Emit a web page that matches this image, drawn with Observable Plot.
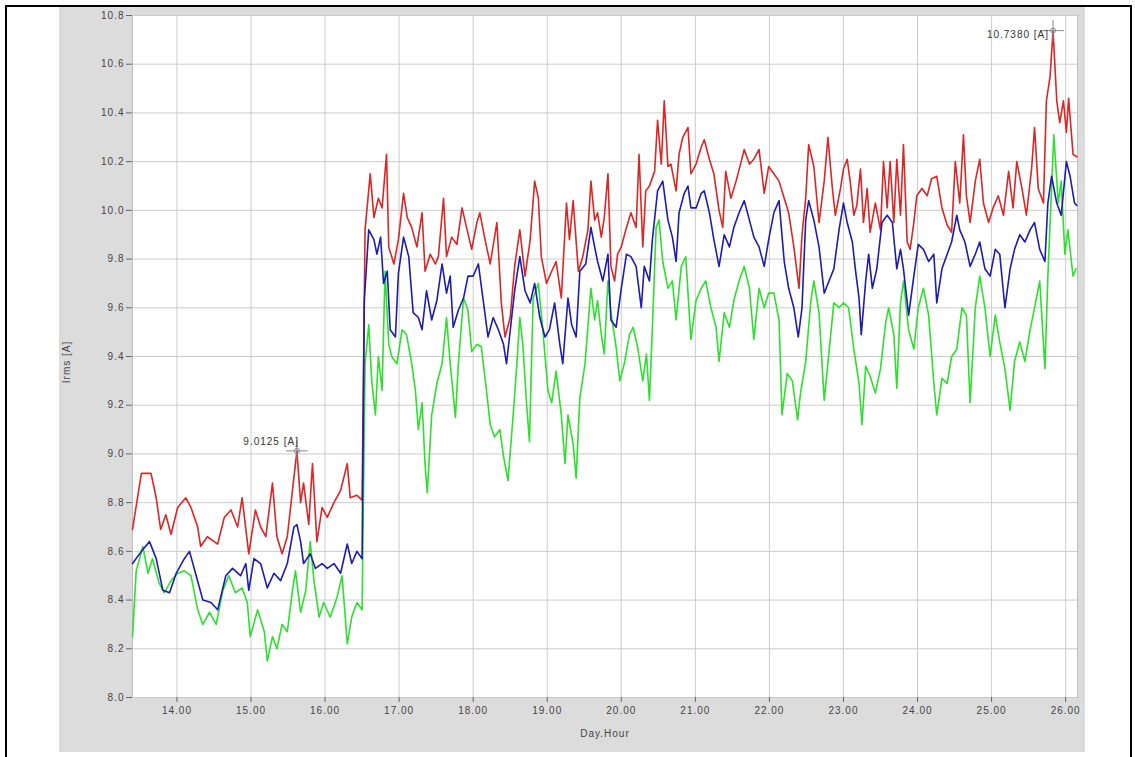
<!DOCTYPE html>
<html>
<head>
<meta charset="utf-8">
<script src="https://cdn.jsdelivr.net/npm/d3@7"></script>
<script src="https://cdn.jsdelivr.net/npm/@observablehq/plot@0.6"></script>
<style>
  html, body { margin: 0; padding: 0; background: #ffffff; }
  body { width: 1135px; height: 757px; position: relative; overflow: hidden; font-family: "Liberation Sans", Arial, sans-serif; }
  #border { position: absolute; left: 5px; top: 5px; width: 1123px; height: 760px; border: 2px solid #000; border-bottom: none; }
  #chart { position: absolute; left: 59px; top: 7px; }
  .lab { position: absolute; font-size: 10px; color: #444; letter-spacing: 1px; white-space: nowrap; }
  #xlab { left: 605px; top: 728px; transform: translateX(-50%); }
  #ylab { left: 66px; top: 362px; transform: translate(-50%, -50%) rotate(-90deg); }
</style>
</head>
<body>
<div id="border"></div>
<div id="chart"></div>
<div class="lab" id="xlab">Day.Hour</div>
<div class="lab" id="ylab">Irms [A]</div>
<script>
// ---- Tick labels ----
const xTicks = [14, 15, 16, 17, 18, 19, 20, 21, 22, 23, 24, 25, 26];
const yTicks = [8.0, 8.2, 8.4, 8.6, 8.8, 9.0, 9.2, 9.4, 9.6, 9.8, 10.0, 10.2, 10.4, 10.6, 10.8];

// ---- Red series ----
const redHours = [
  13.40,13.52,13.65,13.72,13.78,13.85,13.92,14.01,14.12,14.19,14.28,14.32,14.41,14.55,14.64,14.73,14.82,14.88,14.97,15.06,
  15.13,15.20,15.29,15.35,15.42,15.49,15.56,15.62,15.67,15.71,15.78,15.83,15.89,15.96,16.03,16.12,16.21,16.30,16.34,16.43,16.50,
  16.54,16.61,16.66,16.72,16.77,16.83,16.86,16.93,16.99,17.06,17.11,17.17,17.24,17.31,17.35,17.42,17.49,17.53,17.60,17.64,
  17.71,17.78,17.85,17.91,17.98,18.05,18.09,18.16,18.23,18.32,18.38,18.43,18.50,18.56,18.63,18.70,18.77,18.83,18.88,18.92,
  18.99,19.06,19.12,19.19,19.26,19.30,19.35,19.42,19.48,19.55,
  19.59,19.64,19.68,19.73,19.77,19.82,19.86,19.91,19.95,20.00,20.07,20.13,20.20,20.24,20.29,20.33,20.38,20.45,20.49,20.54,
  20.58,20.63,20.67,20.74,20.78,20.83,20.90,20.94,21.01,21.08,21.12,21.19,21.25,21.32,21.37,21.41,21.48,21.55,21.61,21.66,
  21.73,21.79,21.86,21.93,21.99,22.06,22.13,22.20,22.26,22.33,22.40,22.44,22.49,22.53,22.60,22.67,22.74,22.79,
  22.85,22.89,22.96,23.00,23.05,23.09,23.14,23.18,23.23,23.27,23.32,23.36,23.43,23.50,23.54,23.59,23.63,23.68,23.72,23.77,
  23.81,23.86,23.90,23.95,23.99,24.06,24.13,24.19,24.26,24.33,24.40,24.46,24.51,24.57,24.62,24.66,24.71,24.78,24.84,24.89,
  24.96,25.02,25.09,25.16,25.23,25.29,25.34,25.41,25.47,25.54,25.58,25.63,25.70,25.74,25.79,25.83,25.88,25.92,25.97,26.01,
  26.04,26.10,26.15
];
const redValues = [
  8.69,8.92,8.92,8.82,8.69,8.75,8.67,8.78,8.82,8.78,8.70,8.62,8.66,8.63,8.74,8.77,8.70,8.82,8.59,8.77,
  8.70,8.66,8.88,8.66,8.59,8.66,8.85,9.0125,8.80,8.88,8.71,8.96,8.64,8.78,8.74,8.80,8.85,8.96,8.82,8.83,8.81,
  9.92,10.15,9.97,10.05,10.01,10.23,9.85,9.78,9.88,10.07,9.97,9.93,9.85,9.99,9.75,9.82,9.78,9.81,10.05,9.81,
  9.89,9.86,10.01,9.93,9.84,9.95,9.99,9.88,9.78,9.95,9.62,9.48,9.56,9.77,9.92,9.73,9.88,10.12,10.05,9.81,
  9.70,9.75,9.79,9.64,10.03,9.88,10.04,9.75,9.81,9.92,
  10.12,9.96,9.99,9.89,9.97,10.15,9.77,9.71,9.82,9.85,9.93,9.99,9.93,10.23,9.85,10.08,10.10,10.16,10.37,10.19,
  10.45,10.18,10.19,10.08,10.23,10.30,10.34,10.15,10.19,10.26,10.29,10.21,10.15,10.00,9.93,10.16,10.05,10.12,10.19,10.25,
  10.19,10.21,10.25,10.07,10.18,10.15,10.12,10.05,9.99,9.85,9.68,9.90,10.05,10.27,10.18,9.95,10.12,10.30,
  10.09,9.98,10.09,10.17,10.21,10.12,9.98,10.02,10.17,9.95,10.09,9.91,10.03,9.92,10.20,10.01,10.20,9.95,10.21,9.98,
  10.27,9.87,9.84,9.95,10.06,10.09,10.06,10.13,10.14,10.01,9.94,9.91,10.20,10.03,10.31,10.06,9.95,10.12,10.21,10.03,
  9.95,10.01,10.06,9.98,10.16,10.01,10.20,10.09,9.98,10.17,10.34,10.09,10.03,10.45,10.55,10.738,10.45,10.36,10.45,10.32,
  10.46,10.23,10.22
];

// ---- Blue series ----
const blueHours = [
  13.40,13.52,13.63,13.72,13.81,13.90,13.99,14.10,14.17,14.26,14.35,14.46,14.55,14.66,14.75,14.86,14.93,14.97,15.04,15.13,
  15.22,15.31,15.40,15.49,15.58,15.62,15.67,15.71,15.80,15.87,15.96,16.03,16.12,16.21,16.30,16.36,16.43,16.50,
  16.53,16.59,16.66,16.70,16.75,16.79,16.84,16.88,16.95,16.99,17.06,17.13,17.19,17.26,17.31,17.37,17.44,17.51,17.58,17.64,
  17.69,17.73,17.80,17.87,17.93,18.00,18.07,18.14,18.20,18.27,18.34,18.41,18.45,18.52,18.56,18.63,18.70,18.77,18.83,18.90,
  18.97,19.03,19.10,19.17,19.21,19.28,19.33,19.39,19.44,19.52,
  19.59,19.64,19.68,19.75,19.82,19.86,19.93,20.00,20.07,20.13,20.20,20.27,20.31,20.38,20.42,20.49,20.56,20.63,20.69,20.74,
  20.78,20.85,20.90,20.94,21.01,21.08,21.12,21.19,21.25,21.32,21.39,21.46,21.52,21.59,21.66,21.73,21.79,21.86,21.93,21.99,
  22.06,22.13,22.20,22.26,22.33,22.39,22.44,22.49,22.53,22.60,22.67,22.74,
  22.87,22.94,23.00,23.05,23.12,23.16,23.21,23.24,23.30,23.34,23.39,23.45,23.52,23.59,23.66,23.72,23.77,23.81,23.88,23.95,
  24.01,24.08,24.15,24.22,24.26,24.33,24.40,24.46,24.53,24.57,24.64,24.71,24.78,24.84,24.91,24.98,25.05,25.11,25.18,25.25,
  25.31,25.38,25.45,25.52,25.58,25.65,25.72,25.76,25.81,25.88,25.94,26.01,26.06,26.12,26.15
];
const blueValues = [
  8.55,8.60,8.64,8.57,8.44,8.43,8.51,8.57,8.60,8.50,8.40,8.39,8.36,8.50,8.53,8.50,8.55,8.44,8.57,8.55,
  8.45,8.51,8.48,8.55,8.70,8.71,8.64,8.55,8.59,8.53,8.55,8.53,8.55,8.51,8.63,8.55,8.60,8.57,
  9.63,9.92,9.88,9.82,9.89,9.70,9.75,9.51,9.48,9.74,9.89,9.81,9.58,9.56,9.51,9.67,9.55,9.63,9.78,9.66,
  9.73,9.52,9.59,9.64,9.73,9.73,9.78,9.62,9.48,9.56,9.51,9.45,9.37,9.56,9.67,9.81,9.67,9.62,9.70,9.56,
  9.48,9.51,9.62,9.45,9.37,9.64,9.53,9.48,9.75,9.78,
  9.93,9.85,9.79,9.71,9.82,9.55,9.52,9.68,9.82,9.81,9.77,9.60,9.77,9.71,9.88,10.08,10.12,9.96,9.89,9.79,
  9.99,10.07,10.10,10.01,10.01,10.07,10.08,9.99,9.88,9.77,9.90,9.85,9.93,9.99,10.04,9.96,9.89,9.85,9.77,9.88,
  9.99,10.04,9.79,9.68,9.60,9.48,9.60,9.96,10.04,9.96,9.85,9.66,
  9.76,9.92,10.03,9.95,9.87,9.76,9.64,9.49,9.71,9.82,9.68,9.76,9.95,9.98,9.95,9.76,9.84,9.76,9.57,9.73,
  9.86,9.84,9.79,9.82,9.62,9.76,9.82,9.87,9.98,9.92,9.87,9.77,9.82,9.87,9.76,9.73,9.84,9.82,9.60,9.76,
  9.84,9.90,9.87,9.92,9.95,9.84,9.79,10.03,10.14,10.03,9.98,10.20,10.14,10.03,10.02
];

// ---- Green series ----
const greenHours = [
  13.40,13.45,13.54,13.61,13.67,13.76,13.83,13.92,14.01,14.10,14.19,14.28,14.35,14.44,14.53,14.62,14.70,14.79,14.88,14.95,
  14.99,15.09,15.18,15.22,15.29,15.35,15.42,15.49,15.56,15.60,15.67,15.74,15.80,15.85,15.92,15.98,16.07,16.16,16.23,16.30,
  16.36,16.43,16.50,
  16.54,16.59,16.63,16.68,16.72,16.77,16.81,16.86,16.90,16.97,17.04,17.10,17.17,17.22,17.26,17.31,17.35,17.38,17.44,17.51,
  17.58,17.64,17.69,17.76,17.80,17.87,17.93,17.98,18.05,18.11,18.18,18.23,18.29,18.36,18.41,18.47,18.54,18.59,18.63,18.67,
  18.72,18.76,18.81,18.88,18.94,19.01,19.06,19.12,19.19,19.24,19.28,19.35,19.39,19.44,19.51,
  19.59,19.64,19.68,19.73,19.77,19.82,19.86,19.93,19.98,20.04,20.11,20.16,20.22,20.29,20.34,20.38,20.42,20.47,20.51,20.56,
  20.63,20.69,20.74,20.81,20.87,20.94,21.01,21.08,21.14,21.21,21.28,21.32,21.39,21.46,21.52,21.59,21.66,21.73,21.79,21.86,
  21.93,21.99,22.06,22.13,22.17,22.24,22.31,22.38,22.42,22.49,22.56,22.60,22.67,22.74,
  22.87,22.94,23.00,23.07,23.14,23.21,23.25,23.30,23.36,23.43,23.50,23.57,23.61,23.68,23.72,23.77,23.81,23.88,23.95,24.01,
  24.08,24.15,24.22,24.26,24.33,24.40,24.46,24.53,24.60,24.66,24.71,24.78,24.84,24.91,24.98,25.05,25.11,25.18,25.25,25.31,
  25.38,25.45,25.52,25.58,25.65,25.72,25.76,25.81,25.84,25.90,25.94,25.99,26.03,26.10,26.14
];
const greenValues = [
  8.25,8.52,8.62,8.51,8.57,8.47,8.43,8.48,8.51,8.52,8.50,8.36,8.30,8.35,8.30,8.44,8.50,8.43,8.45,8.39,
  8.25,8.36,8.27,8.15,8.25,8.20,8.30,8.27,8.44,8.52,8.35,8.44,8.64,8.48,8.33,8.39,8.33,8.41,8.50,8.22,
  8.33,8.39,8.36,
  9.37,9.53,9.30,9.16,9.40,9.26,9.75,9.45,9.40,9.37,9.51,9.49,9.37,9.26,9.10,9.21,8.96,8.84,9.16,9.29,
  9.37,9.56,9.37,9.15,9.37,9.64,9.59,9.42,9.45,9.44,9.26,9.12,9.07,9.10,8.99,8.89,9.16,9.37,9.56,9.45,
  9.21,9.05,9.64,9.70,9.51,9.26,9.21,9.34,9.16,8.96,9.16,9.04,8.90,9.23,9.37,
  9.68,9.55,9.63,9.49,9.41,9.71,9.58,9.44,9.30,9.37,9.49,9.52,9.44,9.30,9.41,9.22,9.52,9.93,9.96,9.79,
  9.68,9.71,9.55,9.77,9.81,9.47,9.63,9.68,9.71,9.60,9.52,9.38,9.58,9.52,9.63,9.71,9.77,9.68,9.47,9.68,
  9.60,9.66,9.66,9.55,9.16,9.33,9.30,9.14,9.25,9.38,9.63,9.71,9.58,9.22,
  9.62,9.60,9.62,9.60,9.43,9.29,9.12,9.36,9.32,9.25,9.35,9.54,9.60,9.49,9.27,9.62,9.71,9.51,9.43,9.60,
  9.68,9.57,9.29,9.16,9.31,9.29,9.40,9.43,9.60,9.57,9.21,9.60,9.73,9.60,9.40,9.57,9.46,9.35,9.18,9.38,
  9.46,9.38,9.51,9.60,9.71,9.35,9.73,10.09,10.31,10.03,10.12,9.82,9.92,9.73,9.76
];

// ---- Peak annotations ----
const annHours = [15.62, 25.83];
const annValues = [9.0125, 10.738];
const annLabels = ["9.0125 [A]", "10.7380 [A]"];

const toRows = (hs, vs) => hs.map((h, i) => ({hour: h, value: vs[i]}));
const red = toRows(redHours, redValues);
const blue = toRows(blueHours, blueValues);
const green = toRows(greenHours, greenValues);
const ann = annHours.map((h, i) => ({hour: h, value: annValues[i], label: annLabels[i]}));

const chart = Plot.plot({
  width: 1026,
  height: 745,
  marginLeft: 73,
  marginTop: 8,
  marginRight: 8,
  marginBottom: 55,
  style: {background: "#dcdcdc", fontFamily: "'Liberation Sans', Arial, sans-serif", fontSize: "10px", color: "#444", letterSpacing: "1px"},
  x: {domain: [13.4, 26.16], label: null},
  y: {domain: [8.0, 10.8], label: null},
  marks: [
    Plot.frame({fill: "#ffffff", stroke: "#bdbdbd"}),
    Plot.gridX(xTicks, {stroke: "#cccccc", strokeOpacity: 1, strokeWidth: 1}),
    Plot.gridY(yTicks, {stroke: "#cccccc", strokeOpacity: 1, strokeWidth: 1}),
    Plot.axisX(xTicks, {tickSize: 5, tickPadding: 4, tickFormat: d => d.toFixed(2), stroke: "#666", label: null}),
    Plot.axisY(yTicks, {tickSize: 6, tickPadding: 2, tickFormat: d => d.toFixed(1), stroke: "#666", label: null}),
    Plot.line(green, {x: "hour", y: "value", stroke: "#2ee02e", strokeWidth: 1.6}),
    Plot.line(red, {x: "hour", y: "value", stroke: "#dc2626", strokeWidth: 1.6}),
    Plot.line(blue, {x: "hour", y: "value", stroke: "#1c1cb0", strokeWidth: 1.6}),
    Plot.dot(ann, {x: "hour", y: "value", symbol: "plus", r: 7, stroke: "#888", strokeWidth: 1}),
    Plot.dot(ann, {x: "hour", y: "value", r: 2.5, stroke: "#888", strokeWidth: 1, fill: "none"}),
    Plot.text([ann[0]], {x: "hour", y: "value", text: "label", textAnchor: "end", dx: 2, dy: -9, fill: "#333", fontSize: 10}),
    Plot.text([ann[1]], {x: "hour", y: "value", text: "label", textAnchor: "end", dx: -4, dy: 4, fill: "#333", fontSize: 10})
  ]
});
document.getElementById("chart").appendChild(chart);
</script>
</body>
</html>
